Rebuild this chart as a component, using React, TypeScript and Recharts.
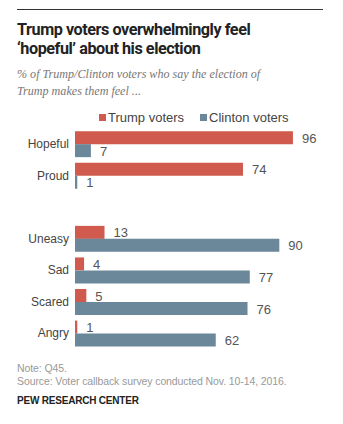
import React from "react";
import { Bar, BarChart, LabelList, XAxis, YAxis } from "recharts";

const categories = ["Hopeful", "Proud", "", "Uneasy", "Sad", "Scared", "Angry"];
const trumpVoters = [96, 74, null, 13, 4, 5, 1];
const clintonVoters = [7, 1, null, 90, 77, 76, 62];

const TRUMP = "#cf5a4d";
const CLINTON = "#6b879a";

const chartData = categories.map((name, i) => ({
  name,
  trump: trumpVoters[i],
  clinton: clintonVoters[i]
}));

const font = "'Liberation Sans', Arial, sans-serif";

function ValueLabel(props: any) {
  const { x, y, width, height, value } = props;
  if (value === null || value === undefined) return null;
  return (
    <text
      x={x + width + 9}
      y={y + height / 2}
      dy={5}
      fontSize={13}
      fill="#555"
      fontFamily={font}
    >
      {value}
    </text>
  );
}

function LegendItem({ color, label }: { color: string; label: string }) {
  return (
    <span style={{ display: "inline-flex", alignItems: "center", marginRight: 16 }}>
      <span style={{ width: 7, height: 7, background: color, marginRight: 2, display: "inline-block" }} />
      {label}
    </span>
  );
}

export default function App() {
  return (
    <div style={{ position: "relative", width: 343, height: 424, margin: -8, background: "#fff", overflow: "hidden" }}>
      <div style={{ position: "absolute", left: 17, top: 9, width: 306, height: 1, background: "#333" }} />
      <div
        style={{
          position: "absolute",
          left: 17,
          top: 20,
          fontFamily: "Roboto, 'Liberation Sans', sans-serif",
          fontWeight: 700,
          fontSize: 16.2,
          letterSpacing: -0.45,
          lineHeight: "19px",
          color: "#222"
        }}
      >
        Trump voters overwhelmingly feel
        <br />
        ‘hopeful’ about his election
      </div>
      <div
        style={{
          position: "absolute",
          left: 17,
          top: 66,
          fontFamily: "'Liberation Serif', Georgia, serif",
          fontStyle: "italic",
          fontSize: 12.1,
          lineHeight: "17px",
          color: "#777"
        }}
      >
        % of Trump/Clinton voters who say the election of
        <br />
        Trump makes them feel ...
      </div>
      <div
        style={{
          position: "absolute",
          left: 99,
          top: 109,
          fontFamily: font,
          fontSize: 13,
          lineHeight: "16px",
          color: "#444",
          whiteSpace: "nowrap"
        }}
      >
        <LegendItem color={TRUMP} label="Trump voters" />
        <LegendItem color={CLINTON} label="Clinton voters" />
      </div>
      <div style={{ position: "absolute", left: 0, top: 100 }}>
        <BarChart
          width={343}
          height={260}
          data={chartData}
          layout="vertical"
          margin={{ top: 28, right: 41, bottom: 11, left: 0 }}
          barCategoryGap="10%"
          barGap={0}
        >
          <XAxis type="number" domain={[0, 100]} hide />
          <YAxis
            type="category"
            dataKey="name"
            width={75}
            axisLine={false}
            tickLine={false}
            tickSize={0}
            tickMargin={6}
            tick={{ fontSize: 12, fill: "#444", fontFamily: font }}
          />
          <Bar dataKey="trump" name="Trump voters" fill={TRUMP} isAnimationActive={false}>
            <LabelList dataKey="trump" content={<ValueLabel />} />
          </Bar>
          <Bar dataKey="clinton" name="Clinton voters" fill={CLINTON} isAnimationActive={false}>
            <LabelList dataKey="clinton" content={<ValueLabel />} />
          </Bar>
        </BarChart>
      </div>
      <div
        style={{
          position: "absolute",
          left: 17,
          top: 362,
          fontFamily: font,
          fontSize: 10.5,
          letterSpacing: -0.1,
          lineHeight: "13px",
          color: "#999"
        }}
      >
        Note: Q45.
        <br />
        Source: Voter callback survey conducted Nov. 10-14, 2016.
      </div>
      <div
        style={{
          position: "absolute",
          left: 17,
          top: 395,
          fontFamily: font,
          fontSize: 10,
          fontWeight: 600,
          letterSpacing: -0.2,
          color: "#222"
        }}
      >
        PEW RESEARCH CENTER
      </div>
      <div style={{ position: "absolute", left: 17, top: 421, width: 306, height: 1, background: "#333" }} />
    </div>
  );
}
